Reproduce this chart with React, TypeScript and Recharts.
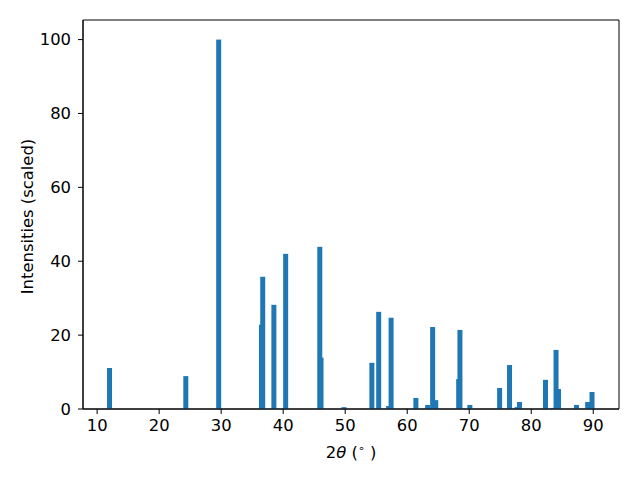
import { Bar, ComposedChart, XAxis, YAxis, ReferenceArea } from "recharts";

const twoTheta = [
  12.0, 24.3, 29.6, 36.5, 36.7, 38.5, 40.4, 45.9, 46.1, 49.8, 54.3, 55.4, 57.0, 57.4,
  61.4, 63.3, 64.1, 64.6, 68.3, 68.5, 70.1, 74.9, 76.5, 77.7, 78.1, 82.3, 83.6, 84.0,
  84.4, 87.3, 89.1, 89.8,
];
const intensity = [
  11.1, 8.9, 100, 22.8, 35.8, 28.2, 42.0, 43.9, 13.9, 0.5, 12.5, 26.3, 0.8, 24.7,
  3.0, 1.1, 22.2, 2.4, 8.1, 21.4, 1.1, 5.7, 11.9, 0.5, 1.9, 7.9, 0.3, 16.0,
  5.4, 1.1, 1.9, 4.6,
];
const xTicks = [10, 20, 30, 40, 50, 60, 70, 80, 90];
const yTicks = [0, 20, 40, 60, 80, 100];

const xDomain: [number, number] = [7.72, 94.15];
const yDomain: [number, number] = [0, 105.3];

const data = twoTheta.map((t, i) => ({ t, v: intensity[i] }));

const FONT = "'DejaVu Sans', sans-serif";
const FS = 16.4;
const BLUE = "#1f77b4";

// bars on a number axis get squeezed when peaks sit close together,
// so redraw each one at a fixed width around its own centre
const PeakBar = (props: any) => {
  const { x, y, width, height } = props;
  if (height == null || height <= 0) return null;
  const cx = x + width / 2;
  return <rect x={cx - 2.5} y={y} width={5} height={height} fill={BLUE} />;
};

const tickStyle = { fill: "#000", fontSize: FS, fontFamily: FONT };

export default function App() {
  return (
    <div style={{ position: "absolute", left: 0, top: 0, background: "#fff" }}>
      <ComposedChart
        width={640}
        height={480}
        data={data}
        margin={{ top: 20, right: 21, left: 23, bottom: 41 }}
      >
        <XAxis
          dataKey="t"
          type="number"
          domain={xDomain}
          ticks={xTicks}
          allowDataOverflow
          height={30}
          tick={tickStyle}
          tickSize={5}
          tickMargin={5}
          tickLine={{ stroke: "#000" }}
          axisLine={{ stroke: "#000" }}
          label={{
            content: ({ viewBox }: any) => (
              <text
                x={viewBox.x + viewBox.width / 2}
                y={viewBox.y + 49}
                textAnchor="middle"
                fontFamily={FONT}
                fontSize={FS}
                fill="#000"
              >
                2<tspan fontStyle="italic">θ</tspan> (
                <tspan fontSize={11} dy={-6}>∘</tspan>
                <tspan dy={6}> )</tspan>
              </text>
            ),
          }}
        />
        <YAxis
          type="number"
          domain={yDomain}
          ticks={yTicks}
          allowDataOverflow
          width={60}
          tick={tickStyle}
          tickSize={5}
          tickMargin={7}
          tickLine={{ stroke: "#000" }}
          axisLine={{ stroke: "#000" }}
          label={{
            content: ({ viewBox }: any) => {
              const cx = viewBox.x + 4;
              const cy = viewBox.y + viewBox.height / 2 + 2;
              return (
                <text
                  x={cx}
                  y={cy}
                  transform={`rotate(-90, ${cx}, ${cy})`}
                  textAnchor="middle"
                  dominantBaseline="central"
                  fontFamily={FONT}
                  fontSize={FS}
                  fill="#000"
                >
                  Intensities (scaled)
                </text>
              );
            },
          }}
        />
        <Bar dataKey="v" fill={BLUE} shape={PeakBar} isAnimationActive={false} />
        <ReferenceArea
          x1={xDomain[0]}
          x2={xDomain[1]}
          y1={yDomain[0]}
          y2={yDomain[1]}
          fill="none"
          stroke="#000"
          strokeWidth={1}
          ifOverflow="visible"
        />
      </ComposedChart>
    </div>
  );
}
